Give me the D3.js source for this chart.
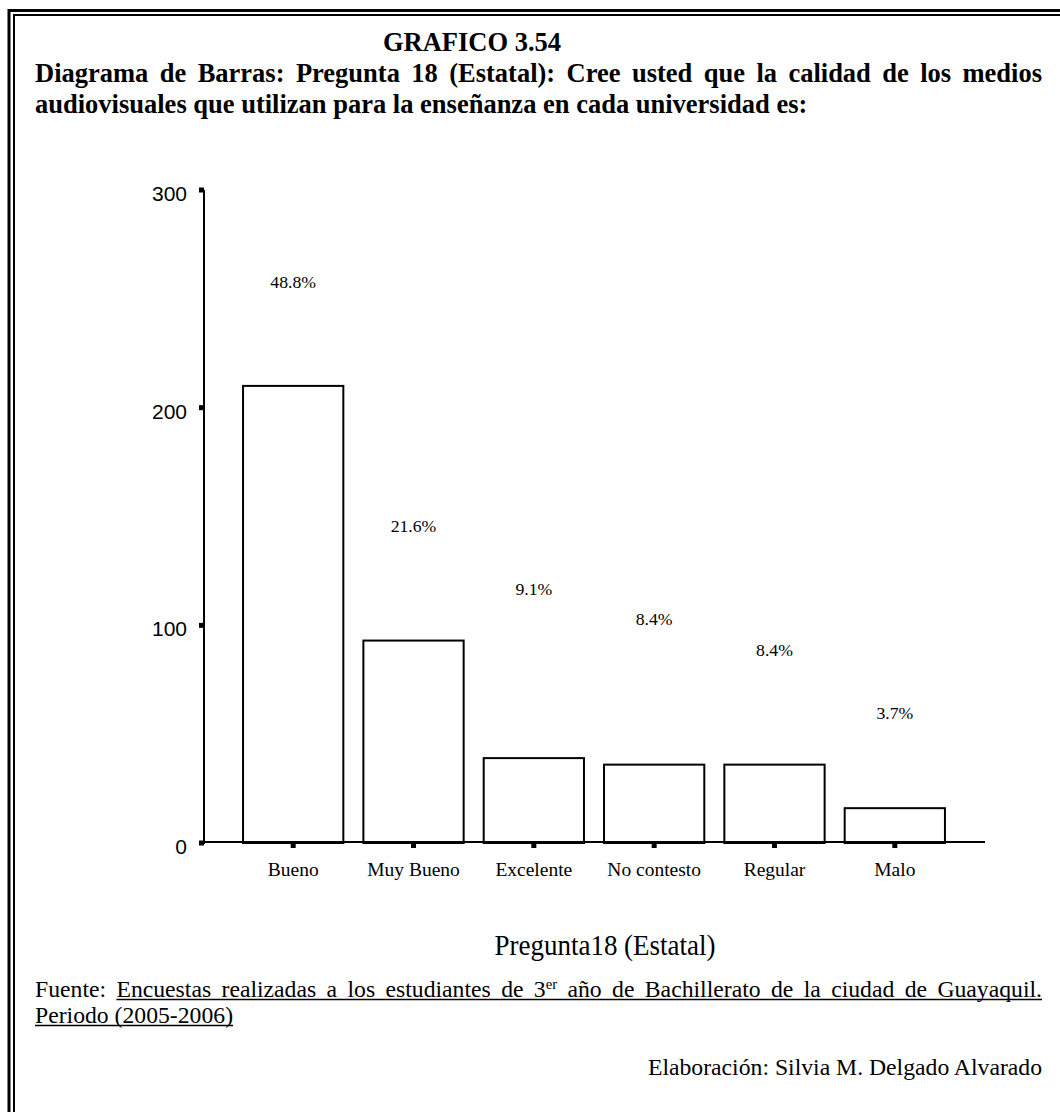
<!DOCTYPE html>
<html><head><meta charset="utf-8">
<script src="https://cdn.jsdelivr.net/npm/d3@7"></script>
<style>body{margin:0;background:#fff}svg{display:block}</style>
</head><body><svg id="c" width="1060" height="1112"></svg>
<script>
// ---- data ----
const categories = ["Bueno", "Muy Bueno", "Excelente", "No contesto", "Regular", "Malo"];
const counts = [210, 93, 39, 36, 36, 16];
const percentLabels = ["48.8%", "21.6%", "9.1%", "8.4%", "8.4%", "3.7%"];
const labelAnchors = [255, 143, 114, 100, 86, 57];   // value (count units) at which each % label sits
const yTicks = [0, 100, 200, 300];
const titleNumber = "GRAFICO 3.54";
const titleLine1 = "Diagrama de Barras: Pregunta 18 (Estatal): Cree usted que la calidad de los medios";
const titleLine2 = "audiovisuales que utilizan para la enseñanza en cada universidad es:";
const axisTitle = "Pregunta18 (Estatal)";
const sourceLabel = "Fuente:";
const sourceLine1 = "Encuestas realizadas a los estudiantes de 3|er año de Bachillerato de la ciudad de Guayaquil.";
const sourceLine2 = "Periodo (2005-2006)";
const authorLine = "Elaboración: Silvia M. Delgado Alvarado";

// ---- drawing ----
const svg = d3.select("#c");
const SERIF = "'Liberation Serif','Times New Roman',serif";
const SANS = "'Liberation Sans',Arial,sans-serif";

svg.append("rect").attr("width", 1060).attr("height", 1112).attr("fill", "#fff");

// double frame (cut off at right and bottom)
svg.append("path").attr("d", "M9,1112V10.5H1060").attr("fill", "none").attr("stroke", "#000").attr("stroke-width", 3);
svg.append("path").attr("d", "M14,1112V15H1060").attr("fill", "none").attr("stroke", "#000").attr("stroke-width", 2);

const LEFT = 35, RIGHT = 1042;

function justify(words, x0, x1, y, attrs) {
  const els = words.map(w => {
    const t = svg.append("text").attr("y", y);
    Object.entries(attrs).forEach(([k, v]) => t.attr(k, v));
    const parts = w.split("|");
    t.append("tspan").text(parts[0]);
    if (parts[1]) t.append("tspan").attr("font-size", "0.62em").attr("dy", "-0.55em").text(parts[1]);
    return t;
  });
  const widths = els.map(e => e.node().getComputedTextLength());
  const total = d3.sum(widths);
  const gap = words.length > 1 ? (x1 - x0 - total) / (words.length - 1) : 0;
  let x = x0;
  const pos = [];
  els.forEach((e, i) => { e.attr("x", x); pos.push([x, x + widths[i]]); x += widths[i] + gap; });
  return pos;
}

// titles
const TFS = 26.5;
svg.append("text").attr("x", 472).attr("y", 51).attr("text-anchor", "middle")
  .attr("font-family", SERIF).attr("font-weight", "bold").attr("font-size", TFS).text(titleNumber);
justify(titleLine1.split(" "), LEFT, RIGHT, 82, {"font-family": SERIF, "font-weight": "bold", "font-size": TFS});
svg.append("text").attr("x", LEFT).attr("y", 113)
  .attr("font-family", SERIF).attr("font-weight", "bold").attr("font-size", TFS).text(titleLine2);

// scales
const y = d3.scaleLinear().domain([0, 300]).range([843, 190]);
const x = d3.scaleBand().domain(categories).range([223, 965]).paddingInner(1 / 6).paddingOuter(1 / 6);
const AX = 204, AY = 842;

// bars
svg.append("g").selectAll("rect").data(categories).join("rect")
  .attr("x", d => x(d)).attr("y", (d, i) => y(counts[i]))
  .attr("width", x.bandwidth()).attr("height", (d, i) => y(0) - y(counts[i]))
  .attr("fill", "#fff").attr("stroke", "#000").attr("stroke-width", 2);

// y axis (labels via d3 axis)
const yAxis = svg.append("g").attr("transform", `translate(${AX},0)`)
  .call(d3.axisLeft(y).tickValues(yTicks).tickSize(0).tickPadding(17).tickFormat(d3.format("d")));
yAxis.select(".domain").remove();
yAxis.selectAll("text").attr("font-family", SANS).attr("font-size", 21).attr("fill", "#000").attr("dy", "0.5em");
svg.append("line").attr("x1", AX).attr("x2", AX).attr("y1", y(300)).attr("y2", y(0) + 1)
  .attr("stroke", "#000").attr("stroke-width", 2);
svg.append("g").selectAll("rect").data(yTicks).join("rect")
  .attr("x", AX - 5).attr("y", d => y(d) - 2.5).attr("width", 5).attr("height", 5).attr("fill", "#000");

// x axis
svg.append("line").attr("x1", AX).attr("x2", 985).attr("y1", AY).attr("y2", AY)
  .attr("stroke", "#000").attr("stroke-width", 2);
const xAxis = svg.append("g").attr("transform", `translate(0,${AY})`)
  .call(d3.axisBottom(x).tickSize(0).tickPadding(0));
xAxis.select(".domain").remove();
xAxis.selectAll("text").attr("font-family", SERIF).attr("font-size", 19.5).attr("fill", "#000")
  .attr("dy", null).attr("y", 34);
svg.append("g").selectAll("rect").data(categories).join("rect")
  .attr("x", d => x(d) + x.bandwidth() / 2 - 2.5).attr("y", AY).attr("width", 5).attr("height", 6).attr("fill", "#000");

// percentage labels
svg.append("g").selectAll("text").data(categories).join("text")
  .attr("x", d => x(d) + x.bandwidth() / 2).attr("y", (d, i) => y(labelAnchors[i]))
  .attr("text-anchor", "middle").attr("font-family", SERIF).attr("font-size", 17.7).attr("fill", "#000")
  .text((d, i) => percentLabels[i]);

// axis title (condensed)
svg.append("text").attr("text-anchor", "middle")
  .attr("font-family", SERIF).attr("font-size", 30)
  .attr("transform", "translate(605,955) scale(0.9,1)").text(axisTitle);

// source
const fs = 23.7;
const srcWords = [sourceLabel].concat(sourceLine1.split(" "));
const pos = justify(srcWords, LEFT, RIGHT, 997, {"font-family": SERIF, "font-size": fs});
svg.append("line").attr("x1", pos[1][0]).attr("x2", pos[pos.length - 1][1]).attr("y1", 999.5).attr("y2", 999.5)
  .attr("stroke", "#000").attr("stroke-width", 1.3);
const p2 = svg.append("text").attr("x", LEFT).attr("y", 1023).attr("font-family", SERIF).attr("font-size", fs).text(sourceLine2);
const w2 = p2.node().getComputedTextLength();
svg.append("line").attr("x1", LEFT).attr("x2", LEFT + w2).attr("y1", 1025.5).attr("y2", 1025.5)
  .attr("stroke", "#000").attr("stroke-width", 1.3);

svg.append("text").attr("x", RIGHT).attr("y", 1075).attr("text-anchor", "end")
  .attr("font-family", SERIF).attr("font-size", fs).text(authorLine);
</script>
</body></html>
